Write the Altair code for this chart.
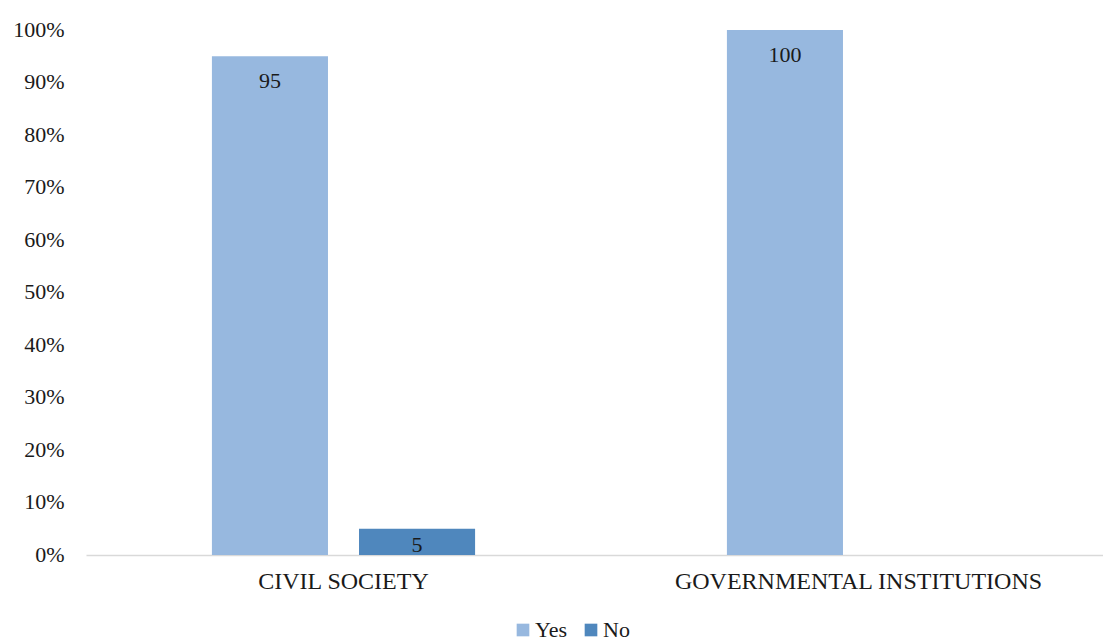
import altair as alt
import pandas as pd

categories = ["CIVIL SOCIETY", "CIVIL SOCIETY", "GOVERNMENTAL INSTITUTIONS", "GOVERNMENTAL INSTITUTIONS"]
series = ["Yes", "No", "Yes", "No"]
values = [95, 5, 100, 0]
y_ticks = [0, 10, 20, 30, 40, 50, 60, 70, 80, 90, 100]

df = pd.DataFrame({"category": categories, "series": series, "value": values})

FONT = "Liberation Serif"
colors = ["#97B8DF", "#4F87BD"]

x = alt.X("category:N", title=None, sort=["CIVIL SOCIETY", "GOVERNMENTAL INSTITUTIONS"],
          scale=alt.Scale(range=[0, 1030], paddingInner=0.489, paddingOuter=0.2445),
          axis=alt.Axis(labelAngle=0, ticks=False, domainColor="#D9D9D9", domainWidth=1.5,
                        labelFont=FONT, labelFontSize=24, labelColor="#1a1a1a", labelPadding=14,
                        labelLimit=0))
xoff = alt.XOffset("series:N", sort=["Yes", "No"],
                   scale=alt.Scale(paddingInner=0.211, paddingOuter=0))
y = alt.Y("value:Q", title=None,
          scale=alt.Scale(domain=[0, 100], nice=False),
          axis=alt.Axis(values=y_ticks, grid=False, ticks=False, domain=False,
                        labelExpr="datum.value + '%'", labelFont=FONT, labelFontSize=22,
                        labelColor="#1a1a1a", labelPadding=22, labelBaseline="middle", labelOffset=-1))

bars = alt.Chart(df).mark_bar().encode(
    x=x, xOffset=xoff, y=y,
    color=alt.Color("series:N", sort=["Yes", "No"], title=None,
                    scale=alt.Scale(domain=["Yes", "No"], range=colors),
                    legend=alt.Legend(orient="none", legendX=426, legendY=589, direction="horizontal",
                                      symbolType="square", symbolSize=160, symbolStrokeWidth=0,
                                      labelFont=FONT, labelFontSize=22, labelColor="#1a1a1a",
                                      labelOffset=1, columnPadding=12)),
)

labels_tall = alt.Chart(df).transform_filter("datum.value >= 10").mark_text(
    baseline="middle", align="center", font=FONT, fontSize=22, color="#1a1a1a", dy=25
).encode(x=x, xOffset=xoff, y=y, text=alt.Text("value:Q"))

labels_short = alt.Chart(df).transform_filter("datum.value > 0 && datum.value < 10").mark_text(
    baseline="middle", align="center", font=FONT, fontSize=22, color="#1a1a1a", dy=16
).encode(x=x, xOffset=xoff, y=y, text=alt.Text("value:Q"))

chart = alt.layer(bars, labels_tall, labels_short).properties(
    width=1017, height=525,
    autosize=alt.AutoSizeParams(type="none"),
    padding={"left": 86, "top": 30, "right": 0, "bottom": 88},
).configure_view(stroke=None)

chart.save("out.html", embed_options={"renderer": "svg", "actions": False})
